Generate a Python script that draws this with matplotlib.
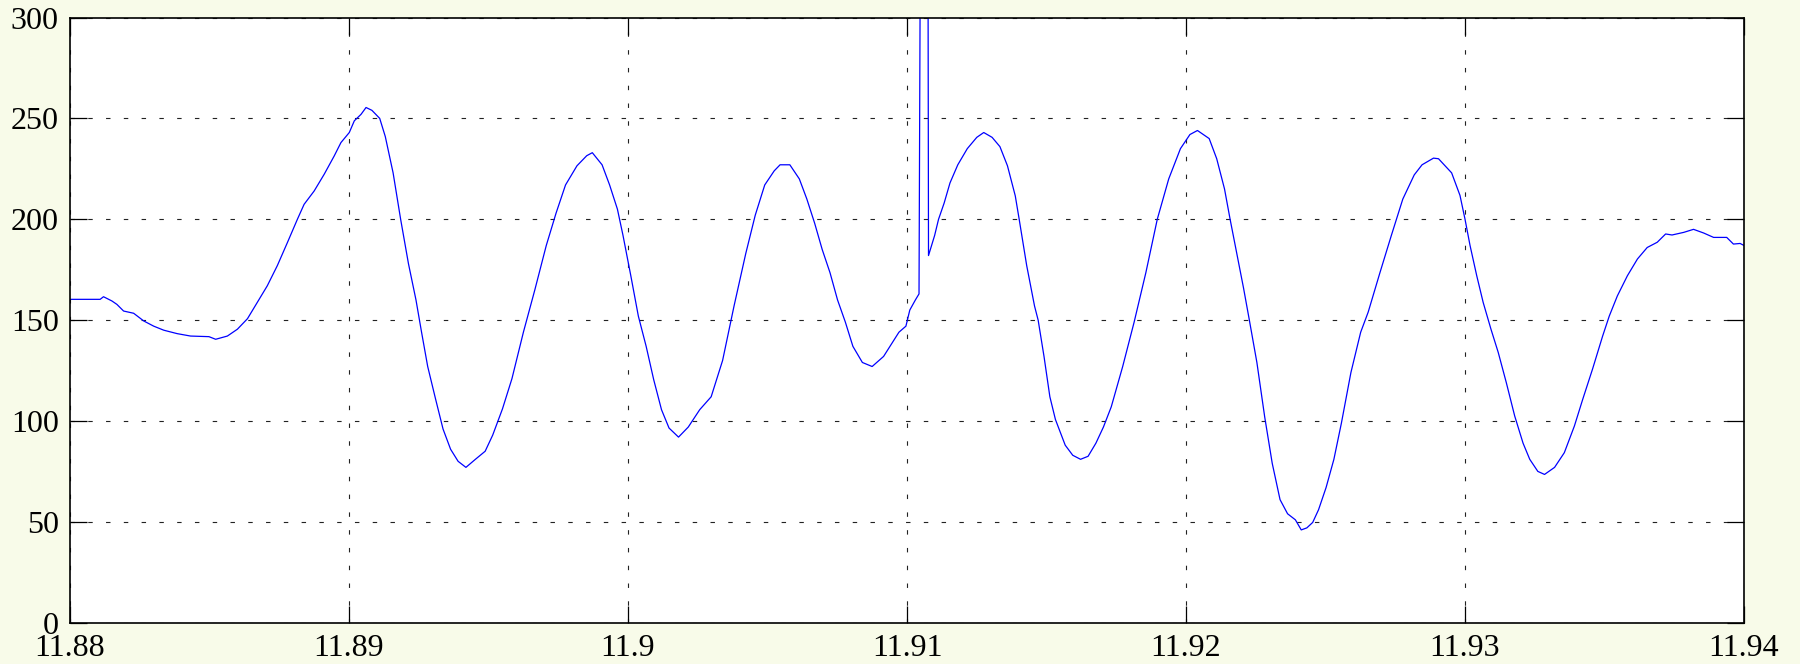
import matplotlib
matplotlib.use("Agg")
import matplotlib.pyplot as plt

# colours / style
BG = "#f8fbe9"
LINE = "#0000ff"

# signal (time in s, value)
t = [11.88000, 11.88108, 11.88120, 11.88150, 11.88168, 11.88192, 11.88228, 11.88264,
     11.88300, 11.88336, 11.88384, 11.88432, 11.88498, 11.88522, 11.88564, 11.88600,
     11.88636, 11.88671, 11.88707, 11.88743, 11.88779, 11.88815, 11.88839, 11.88875,
     11.88911, 11.88947, 11.88971, 11.89001, 11.89019, 11.89043, 11.89061, 11.89082,
     11.89110, 11.89130, 11.89158, 11.89185, 11.89213, 11.89240, 11.89260, 11.89282,
     11.89310, 11.89337, 11.89364, 11.89391, 11.89419, 11.89453, 11.89488, 11.89515,
     11.89550, 11.89584, 11.89625, 11.89666, 11.89707, 11.89742, 11.89776, 11.89817,
     11.89852, 11.89872, 11.89907, 11.89934, 11.89962, 11.89982, 11.90010, 11.90037,
     11.90065, 11.90092, 11.90120, 11.90147, 11.90181, 11.90216, 11.90257, 11.90298,
     11.90339, 11.90380, 11.90422, 11.90456, 11.90490, 11.90524, 11.90545, 11.90580,
     11.90614, 11.90641, 11.90669, 11.90696, 11.90724, 11.90751, 11.90779, 11.90806,
     11.90840, 11.90875, 11.90916, 11.90971, 11.90996, 11.91010, 11.91030, 11.91043,
     11.91048, 11.91075, 11.91077, 11.91099, 11.91113, 11.91133, 11.91154, 11.91182,
     11.91216, 11.91250, 11.91275, 11.91305, 11.91333, 11.91360, 11.91388, 11.91402,
     11.91429, 11.91457, 11.91470, 11.91491, 11.91512, 11.91532, 11.91567, 11.91594,
     11.91622, 11.91649, 11.91677, 11.91704, 11.91732, 11.91773, 11.91814, 11.91856,
     11.91897, 11.91938, 11.91980, 11.92014, 11.92041, 11.92083, 11.92110, 11.92138,
     11.92158, 11.92186, 11.92206, 11.92227, 11.92254, 11.92282, 11.92309, 11.92337,
     11.92364, 11.92392, 11.92413, 11.92433, 11.92454, 11.92475, 11.92502, 11.92530,
     11.92557, 11.92591, 11.92626, 11.92653, 11.92695, 11.92736, 11.92777, 11.92818,
     11.92846, 11.92887, 11.92905, 11.92952, 11.92982, 11.93000, 11.93018, 11.93042,
     11.93065, 11.93093, 11.93119, 11.93148, 11.93178, 11.93208, 11.93232, 11.93261,
     11.93285, 11.93321, 11.93356, 11.93392, 11.93422, 11.93457, 11.93493, 11.93517,
     11.93546, 11.93582, 11.93618, 11.93653, 11.93689, 11.93719, 11.93742, 11.93784,
     11.93819, 11.93855, 11.93891, 11.93938, 11.93962, 11.93986, 11.94000]
v = [160.3, 160.3, 161.6, 159.5, 157.8, 154.5, 153.4, 149.6,
     147.0, 145.0, 143.3, 142.1, 141.8, 140.5, 142.1, 145.5,
     150.7, 158.7, 167.0, 177.0, 188.4, 200.0, 207.4, 214.0,
     222.3, 231.4, 238.0, 243.0, 248.8, 252.0, 255.4, 254.0,
     250.0, 241.0, 223.0, 200.0, 178.0, 160.0, 144.0, 127.0,
     111.0, 96.0, 86.0, 80.0, 77.0, 81.0, 85.0, 93.0,
     106.0, 121.0, 144.0, 165.0, 187.0, 203.0, 217.0, 226.5,
     231.5, 233.0, 227.0, 217.0, 205.0, 192.0, 172.0, 152.0,
     137.0, 120.5, 105.6, 96.5, 92.0, 97.0, 105.6, 112.0,
     130.0, 157.0, 183.0, 202.0, 217.0, 224.0, 227.0, 227.0,
     220.0, 210.0, 198.0, 185.0, 173.5, 160.0, 149.0, 137.0,
     129.0, 127.0, 132.0, 144.0, 147.0, 155.0, 160.0, 163.0,
     350.0, 350.0, 182.0, 192.0, 200.0, 208.0, 218.0, 227.0,
     235.0, 240.6, 243.0, 240.6, 236.0, 226.5, 211.6, 200.0,
     177.0, 157.0, 150.0, 132.0, 112.0, 100.7, 88.0, 83.0,
     81.0, 82.5, 89.0, 97.0, 107.0, 127.0, 149.0, 173.5,
     200.0, 220.0, 235.0, 242.0, 244.0, 240.0, 230.0, 215.0,
     200.0, 180.0, 166.0, 150.0, 129.0, 102.0, 79.0, 61.0,
     54.0, 51.0, 46.0, 47.0, 49.7, 56.0, 67.0, 81.0,
     99.0, 124.0, 144.0, 154.0, 173.5, 192.0, 210.0, 222.0,
     227.0, 230.3, 230.0, 223.0, 211.8, 200.0, 187.0, 172.0,
     158.8, 145.5, 134.0, 119.0, 102.5, 89.0, 81.0, 75.0,
     73.5, 77.0, 84.3, 97.5, 110.8, 125.7, 142.0, 152.0,
     162.0, 172.0, 180.3, 186.0, 188.6, 192.7, 192.2, 193.5,
     195.0, 193.2, 191.0, 191.0, 187.7, 188.0, 187.0]

x_ticks = [11.88, 11.89, 11.90, 11.91, 11.92, 11.93, 11.94]
y_ticks = [0, 50, 100, 150, 200, 250, 300]

plt.rcParams["font.family"] = ["Liberation Serif", "DejaVu Serif"]

fig = plt.figure(figsize=(18, 6.64), dpi=100, facecolor=BG)
ax = fig.add_axes([0.0389, 0.0622, 0.930, 0.9114])
ax.set_facecolor("white")

ax.plot(t, v, color=LINE, lw=0.9)

ax.set_xlim(x_ticks[0], x_ticks[-1])
ax.set_ylim(y_ticks[0], y_ticks[-1])
ax.set_xticks(x_ticks)
ax.set_xticklabels([f"{x:g}" for x in x_ticks])
ax.set_yticks(y_ticks)
ax.set_yticklabels([f"{y:g}" for y in y_ticks])

ax.tick_params(direction="in", length=12, width=0.9, colors="black",
               labelsize=23, top=True, right=True)
ax.tick_params(axis="x", pad=8)
ax.tick_params(axis="y", pad=8)
for s in ax.spines.values():
    s.set_linewidth(1.2)
    s.set_color("black")

ax.grid(True, color="#222222", lw=0.8, linestyle=(0, (4, 12)))

fig.savefig("out.png", dpi=100, facecolor=BG)
